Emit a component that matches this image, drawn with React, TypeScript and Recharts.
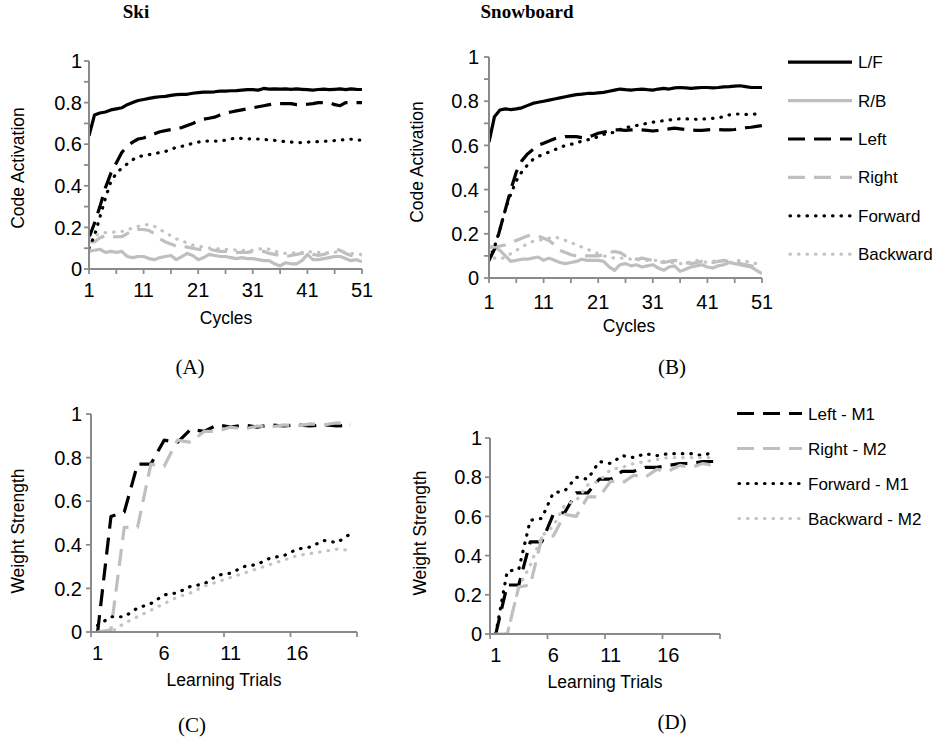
import React from 'react';
import { LineChart, Line, XAxis, YAxis, Legend } from 'recharts';

// ---------- categories ----------
const CYCLES = [1,2,3,4,5,6,7,8,9,10,11,12,13,14,15,16,17,18,19,20,21,22,23,24,25,26,27,28,29,30,31,32,33,34,35,36,37,38,39,40,41,42,43,44,45,46,47,48,49,50,51];
const TRIALS = [1,2,3,4,5,6,7,8,9,10,11,12,13,14,15,16,17,18,19,20];

// ---------- Ski (A) ----------
const SKI_LF = [0.64,0.74,0.75,0.755,0.765,0.77,0.775,0.79,0.80,0.81,0.815,0.82,0.825,0.828,0.83,0.835,0.838,0.84,0.84,0.845,0.848,0.85,0.85,0.852,0.855,0.855,0.857,0.858,0.86,0.862,0.862,0.86,0.868,0.865,0.866,0.865,0.866,0.864,0.866,0.864,0.862,0.86,0.863,0.865,0.862,0.864,0.866,0.862,0.866,0.864,0.863];
const SKI_RB = [0.085,0.09,0.095,0.08,0.085,0.08,0.085,0.06,0.055,0.06,0.06,0.05,0.045,0.055,0.06,0.065,0.045,0.06,0.075,0.065,0.045,0.055,0.07,0.065,0.06,0.06,0.055,0.05,0.055,0.05,0.05,0.045,0.04,0.04,0.025,0.015,0.03,0.025,0.025,0.04,0.07,0.045,0.045,0.05,0.055,0.06,0.06,0.05,0.04,0.045,0.035];
const SKI_LEFT = [0.15,0.22,0.30,0.39,0.46,0.51,0.56,0.59,0.61,0.625,0.63,0.64,0.65,0.66,0.665,0.67,0.675,0.68,0.69,0.70,0.71,0.72,0.725,0.73,0.74,0.75,0.755,0.76,0.765,0.77,0.775,0.78,0.785,0.79,0.795,0.795,0.795,0.795,0.79,0.79,0.792,0.795,0.80,0.80,0.80,0.79,0.785,0.80,0.80,0.80,0.80];
const SKI_RIGHT = [0.13,0.13,0.15,0.16,0.155,0.155,0.155,0.17,0.185,0.19,0.19,0.185,0.17,0.145,0.13,0.12,0.11,0.11,0.105,0.10,0.095,0.09,0.095,0.09,0.085,0.085,0.08,0.08,0.08,0.08,0.085,0.085,0.085,0.075,0.07,0.065,0.06,0.065,0.07,0.075,0.08,0.07,0.065,0.07,0.08,0.095,0.09,0.075,0.065,0.06,0.06];
const SKI_FWD = [0.10,0.16,0.25,0.34,0.42,0.46,0.485,0.505,0.525,0.54,0.545,0.55,0.555,0.56,0.565,0.575,0.585,0.59,0.595,0.605,0.61,0.615,0.615,0.615,0.615,0.62,0.625,0.63,0.628,0.626,0.626,0.625,0.623,0.62,0.618,0.616,0.612,0.61,0.608,0.608,0.61,0.612,0.612,0.614,0.615,0.617,0.62,0.622,0.624,0.62,0.62];
const SKI_BACK = [0.15,0.16,0.17,0.175,0.175,0.18,0.18,0.19,0.195,0.205,0.21,0.215,0.205,0.19,0.175,0.16,0.145,0.135,0.125,0.115,0.11,0.105,0.10,0.10,0.095,0.095,0.095,0.09,0.09,0.09,0.09,0.095,0.10,0.095,0.085,0.08,0.075,0.075,0.08,0.08,0.085,0.08,0.08,0.08,0.075,0.08,0.085,0.08,0.075,0.07,0.07];

// ---------- Snowboard (B) ----------
const SB_LF = [0.615,0.73,0.76,0.765,0.762,0.765,0.77,0.78,0.79,0.795,0.80,0.805,0.81,0.815,0.82,0.825,0.83,0.832,0.835,0.835,0.838,0.84,0.845,0.85,0.855,0.852,0.85,0.853,0.855,0.852,0.85,0.855,0.858,0.855,0.86,0.862,0.86,0.858,0.86,0.862,0.862,0.86,0.862,0.865,0.866,0.868,0.87,0.866,0.862,0.862,0.862];
const SB_RB = [0.14,0.14,0.125,0.10,0.075,0.08,0.085,0.085,0.09,0.095,0.08,0.09,0.08,0.07,0.065,0.07,0.075,0.085,0.08,0.08,0.08,0.075,0.05,0.035,0.06,0.065,0.055,0.06,0.05,0.055,0.06,0.045,0.035,0.05,0.055,0.03,0.04,0.05,0.055,0.06,0.05,0.045,0.055,0.06,0.07,0.065,0.06,0.055,0.05,0.035,0.02];
const SB_LEFT = [0.08,0.13,0.22,0.31,0.40,0.48,0.53,0.56,0.58,0.60,0.61,0.62,0.63,0.635,0.64,0.64,0.64,0.635,0.635,0.645,0.655,0.66,0.665,0.67,0.67,0.668,0.67,0.672,0.67,0.668,0.665,0.668,0.672,0.675,0.678,0.675,0.672,0.67,0.668,0.668,0.67,0.672,0.672,0.67,0.67,0.672,0.675,0.68,0.682,0.686,0.69];
const SB_RIGHT = [0.14,0.14,0.145,0.15,0.16,0.17,0.18,0.19,0.195,0.19,0.18,0.17,0.15,0.125,0.115,0.105,0.10,0.10,0.10,0.10,0.10,0.105,0.115,0.12,0.115,0.10,0.09,0.085,0.09,0.085,0.08,0.075,0.07,0.075,0.08,0.075,0.07,0.065,0.07,0.075,0.07,0.07,0.075,0.08,0.075,0.07,0.065,0.06,0.055,0.05,0.045];
const SB_FWD = [0.08,0.14,0.22,0.31,0.38,0.44,0.48,0.51,0.535,0.55,0.56,0.57,0.58,0.59,0.60,0.605,0.61,0.62,0.625,0.63,0.64,0.65,0.655,0.66,0.672,0.68,0.685,0.69,0.695,0.70,0.705,0.708,0.712,0.715,0.718,0.72,0.72,0.72,0.718,0.72,0.72,0.722,0.725,0.73,0.738,0.742,0.742,0.74,0.74,0.742,0.742];
const SB_BACK = [0.12,0.09,0.085,0.095,0.11,0.125,0.14,0.155,0.165,0.17,0.175,0.18,0.185,0.18,0.17,0.16,0.15,0.14,0.13,0.12,0.11,0.10,0.095,0.09,0.09,0.09,0.085,0.085,0.08,0.08,0.08,0.08,0.075,0.07,0.07,0.065,0.065,0.075,0.08,0.075,0.07,0.075,0.08,0.075,0.07,0.075,0.08,0.075,0.07,0.065,0.06];

// ---------- Weight strength (C) ----------
const C_LEFT = [0,0.53,0.55,0.77,0.77,0.88,0.87,0.93,0.92,0.95,0.94,0.95,0.94,0.95,0.945,0.95,0.945,0.95,0.945,0.95];
const C_RIGHT = [0,0.01,0.48,0.48,0.77,0.76,0.88,0.87,0.92,0.92,0.94,0.93,0.945,0.94,0.95,0.945,0.955,0.95,0.96,0.95];
const C_FWD = [0.03,0.07,0.07,0.11,0.13,0.17,0.18,0.21,0.22,0.26,0.27,0.30,0.31,0.34,0.35,0.38,0.39,0.42,0.41,0.45];
const C_BACK = [0,0,0.04,0.07,0.10,0.13,0.16,0.18,0.21,0.23,0.25,0.27,0.29,0.31,0.33,0.35,0.36,0.37,0.38,0.375];

// ---------- Weight strength (D) ----------
const D_LEFT = [0,0.25,0.25,0.47,0.47,0.61,0.62,0.72,0.72,0.79,0.79,0.83,0.83,0.85,0.85,0.86,0.87,0.87,0.88,0.88];
const D_RIGHT = [0,0,0.24,0.25,0.49,0.50,0.61,0.60,0.70,0.70,0.78,0.77,0.81,0.80,0.84,0.83,0.86,0.85,0.87,0.86];
const D_FWD = [0,0.32,0.33,0.58,0.59,0.72,0.73,0.80,0.79,0.88,0.87,0.91,0.90,0.92,0.91,0.92,0.92,0.92,0.91,0.93];
const D_BACK = [0,0,0.24,0.35,0.50,0.55,0.66,0.68,0.76,0.78,0.84,0.85,0.87,0.88,0.89,0.90,0.90,0.90,0.90,0.90];

// ---------- ticks ----------
const Y_TICKS_CODE = [0,0.1,0.2,0.3,0.4,0.5,0.6,0.7,0.8,0.9,1];
const Y_LABELS_CODE = [0,0.2,0.4,0.6,0.8,1];
const X_TICKS_CYCLES = [1,6,11,16,21,26,31,36,41,46,51];
const X_LABELS_CYCLES = [1,11,21,31,41,51];
const Y_TICKS_W = [0,0.2,0.4,0.6,0.8,1];
const X_TICKS_TRIALS = [0.5,1,5.5,6,10.5,11,15.5,16,20.5];
const X_LABELS_TRIALS = [1,6,11,16];

// ---------- legend names ----------
const TOP_NAMES = ['L/F','R/B','Left','Right','Forward','Backward'];
const BOTTOM_NAMES = ['Left - M1','Right - M2','Forward - M1','Backward - M2'];

// ---------- styles ----------
const SANS = "'Liberation Sans', Arial, sans-serif";
const SERIF = "'Liberation Serif', 'Times New Roman', serif";
const AXIS = '#8a8a8a';
const BLACK = '#000000';
const GRAY = '#bfbfbf';
const GRAY_DOT = '#c3c3c3';
const DASH = '17 9';
const DOT = '0.5 8';
const LW = 3.2;

type Style = { color: string; dash?: string; round?: boolean };
const SOLID_B: Style = { color: BLACK };
const SOLID_G: Style = { color: GRAY };
const DASH_B: Style = { color: BLACK, dash: DASH };
const DASH_G: Style = { color: GRAY, dash: DASH };
const DOT_B: Style = { color: BLACK, dash: DOT, round: true };
const DOT_G: Style = { color: GRAY_DOT, dash: DOT, round: true };

const TOP_STYLES = [SOLID_B, SOLID_G, DASH_B, DASH_G, DOT_B, DOT_G];
const BOTTOM_STYLES = [DASH_B, DASH_G, DOT_B, DOT_G];
const TOP_KEYS = ['lf', 'rb', 'left', 'right', 'fwd', 'back'];
const BOTTOM_KEYS = ['left', 'right', 'fwd', 'back'];

const skiData = CYCLES.map((c, i) => ({ x: c, lf: SKI_LF[i], rb: SKI_RB[i], left: SKI_LEFT[i], right: SKI_RIGHT[i], fwd: SKI_FWD[i], back: SKI_BACK[i] }));
const sbData = CYCLES.map((c, i) => ({ x: c, lf: SB_LF[i], rb: SB_RB[i], left: SB_LEFT[i], right: SB_RIGHT[i], fwd: SB_FWD[i], back: SB_BACK[i] }));
const cData = TRIALS.map((t, i) => ({ x: t, left: C_LEFT[i], right: C_RIGHT[i], fwd: C_FWD[i], back: C_BACK[i] }));
const dData = TRIALS.map((t, i) => ({ x: t, left: D_LEFT[i], right: D_RIGHT[i], fwd: D_FWD[i], back: D_BACK[i] }));

const has = (arr: number[], v: number) => arr.some((a) => Math.abs(a - v) < 1e-6);
const fmt = (v: number) => String(Math.round(v * 10) / 10);

const makeYTick = (labels: number[], gap: number) => (props: any) => {
  const { x, y, payload } = props;
  const v = payload.value;
  return (
    <g>
      <line x1={x - 5} x2={x} y1={y} y2={y} stroke={AXIS} strokeWidth={1.75} />
      {has(labels, v) && (
        <text x={x - gap} y={y} dy={7.2} textAnchor="end" fontSize={20} fontFamily={SANS} fill="#000">
          {fmt(v)}
        </text>
      )}
    </g>
  );
};

const makeXTick = (labels: number[], tickAt: (v: number) => boolean, offset: number) => (props: any) => {
  const { x, y, payload } = props;
  const v = payload.value;
  return (
    <g>
      {tickAt(v) && <line x1={x} x2={x} y1={y} y2={y + 5} stroke={AXIS} strokeWidth={1.75} />}
      {has(labels, v) && (
        <text x={x} y={y + offset} dy={7.2} textAnchor="middle" fontSize={20} fontFamily={SANS} fill="#000">
          {fmt(v)}
        </text>
      )}
    </g>
  );
};

const LegendBox = ({ names, styles, rowH, lineW }: { names: string[]; styles: Style[]; rowH: number; lineW: number }) => (
  <svg width={200} height={names.length * rowH} style={{ display: 'block', overflow: 'visible' }}>
    {names.map((n, i) => {
      const cy = rowH / 2 + i * rowH;
      const s = styles[i];
      return (
        <g key={n}>
          <line
            x1={s.round ? 2 : 0}
            x2={lineW}
            y1={cy}
            y2={cy}
            stroke={s.color}
            strokeWidth={LW}
            strokeDasharray={s.dash}
            strokeLinecap={s.round ? 'round' : 'butt'}
          />
          <text x={lineW + 6} y={cy} dy={6} fontSize={17} fontFamily={SANS} fill="#000">
            {n}
          </text>
        </g>
      );
    })}
  </svg>
);

type PanelProps = {
  left: number; top: number; width: number; height: number;
  margin: { top: number; right: number; bottom: number; left: number };
  yWidth: number; xHeight: number;
  data: any[]; keys: string[]; styles: Style[]; names: string[];
  xDomain: [number, number]; xTicks: number[]; xLabels: number[]; tickAt: (v: number) => boolean;
  yTicks: number[]; yLabels: number[]; yGap: number; xOffset: number;
  legend?: { left: number; top: number; rowH: number; lineW: number };
};

const Panel = (p: PanelProps) => (
  <div style={{ position: 'absolute', left: p.left, top: p.top }}>
    <LineChart width={p.width} height={p.height} data={p.data} margin={p.margin}>
      <XAxis
        dataKey="x"
        type="number"
        domain={p.xDomain}
        ticks={p.xTicks}
        interval={0}
        height={p.xHeight}
        tickSize={0}
        tickMargin={0}
        tickLine={false}
        axisLine={{ stroke: AXIS, strokeWidth: 2 }}
        tick={makeXTick(p.xLabels, p.tickAt, p.xOffset)}
        allowDataOverflow
      />
      <YAxis
        type="number"
        domain={[0, 1]}
        ticks={p.yTicks}
        interval={0}
        width={p.yWidth}
        tickSize={0}
        tickMargin={0}
        tickLine={false}
        axisLine={{ stroke: AXIS, strokeWidth: 2 }}
        tick={makeYTick(p.yLabels, p.yGap)}
        allowDataOverflow
      />
      {p.keys.map((k, i) => (
        <Line
          key={k}
          dataKey={k}
          name={p.names[i]}
          type="linear"
          stroke={p.styles[i].color}
          strokeWidth={LW}
          strokeDasharray={p.styles[i].dash}
          strokeLinecap={p.styles[i].round ? 'round' : 'butt'}
          strokeLinejoin="round"
          dot={false}
          activeDot={false}
          isAnimationActive={false}
        />
      ))}
      {p.legend && (
        <Legend
          layout="vertical"
          align="center"
          verticalAlign="middle"
          wrapperStyle={{ position: 'absolute', left: p.legend.left, top: p.legend.top, width: 200, margin: 0, padding: 0 }}
          content={() => <LegendBox names={p.names} styles={p.styles} rowH={p.legend!.rowH} lineW={p.legend!.lineW} />}
        />
      )}
    </LineChart>
  </div>
);

const Txt = ({ x, y, size, family, weight, rotate, children }: any) => (
  <div
    style={{
      position: 'absolute', left: x, top: y,
      transform: `translate(-50%, -50%)${rotate ? ' rotate(-90deg)' : ''}`,
      fontSize: size, fontFamily: family, fontWeight: weight || 'normal',
      whiteSpace: 'nowrap', lineHeight: 1.2, color: '#000',
    }}
  >
    {children}
  </div>
);

const cycTick = (v: number) => true;
const trialTick = (v: number) => Math.abs(v - Math.round(v)) > 0.1;

export default function App() {
  return (
    <div style={{ position: 'absolute', left: 0, top: 0, width: 940, height: 742, background: '#fff', overflow: 'hidden' }}>
      {/* Titles */}
      <Txt x={136} y={12} size={19} family={SERIF} weight="bold">Ski</Txt>
      <Txt x={527} y={12} size={19} family={SERIF} weight="bold">Snowboard</Txt>

      {/* A */}
      <Panel
        left={0} top={40} width={380} height={299}
        margin={{ top: 21, right: 18, bottom: 0, left: 0 }}
        yWidth={89} xHeight={70}
        data={skiData} keys={TOP_KEYS} styles={TOP_STYLES} names={TOP_NAMES}
        xDomain={[1, 51]} xTicks={X_TICKS_CYCLES} xLabels={X_LABELS_CYCLES} tickAt={cycTick}
        yTicks={Y_TICKS_CODE} yLabels={Y_LABELS_CODE} yGap={7} xOffset={21}
      />
      {/* B */}
      <Panel
        left={400} top={40} width={540} height={308}
        margin={{ top: 17, right: 178, bottom: 0, left: 0 }}
        yWidth={89} xHeight={70}
        data={sbData} keys={TOP_KEYS} styles={TOP_STYLES} names={TOP_NAMES}
        xDomain={[1, 51]} xTicks={X_TICKS_CYCLES} xLabels={X_LABELS_CYCLES} tickAt={cycTick}
        yTicks={Y_TICKS_CODE} yLabels={Y_LABELS_CODE} yGap={10} xOffset={23.5}
        legend={{ left: 388, top: 3, rowH: 38.4, lineW: 64 }}
      />
      {/* C */}
      <Panel
        left={0} top={400} width={380} height={302}
        margin={{ top: 14, right: 23, bottom: 0, left: 0 }}
        yWidth={91} xHeight={70}
        data={cData} keys={BOTTOM_KEYS} styles={BOTTOM_STYLES} names={BOTTOM_NAMES}
        xDomain={[0.5, 20.5]} xTicks={X_TICKS_TRIALS} xLabels={X_LABELS_TRIALS} tickAt={trialTick}
        yTicks={Y_TICKS_W} yLabels={Y_TICKS_W} yGap={9} xOffset={21}
      />
      {/* D */}
      <Panel
        left={400} top={390} width={540} height={314}
        margin={{ top: 48, right: 220, bottom: 0, left: 0 }}
        yWidth={90} xHeight={70}
        data={dData} keys={BOTTOM_KEYS} styles={BOTTOM_STYLES} names={BOTTOM_NAMES}
        xDomain={[0.5, 20.5]} xTicks={X_TICKS_TRIALS} xLabels={X_LABELS_TRIALS} tickAt={trialTick}
        yTicks={Y_TICKS_W} yLabels={Y_TICKS_W} yGap={8} xOffset={21}
        legend={{ left: 337, top: 5.5, rowH: 35, lineW: 65 }}
      />

      {/* Axis titles */}
      <Txt x={17.5} y={168} size={17.5} family={SANS} rotate>Code Activation</Txt>
      <Txt x={416.5} y={162} size={17.5} family={SANS} rotate>Code Activation</Txt>
      <Txt x={226} y={318} size={17.5} family={SANS}>Cycles</Txt>
      <Txt x={629} y={326} size={17.5} family={SANS}>Cycles</Txt>
      <Txt x={17.5} y={531} size={17.5} family={SANS} rotate>Weight Strength</Txt>
      <Txt x={420} y={533} size={17.5} family={SANS} rotate>Weight Strength</Txt>
      <Txt x={224} y={680} size={17.5} family={SANS}>Learning Trials</Txt>
      <Txt x={605} y={682} size={17.5} family={SANS}>Learning Trials</Txt>

      {/* Panel labels */}
      <Txt x={190} y={368} size={21} family={SERIF}>(A)</Txt>
      <Txt x={672} y={368} size={21} family={SERIF}>(B)</Txt>
      <Txt x={192} y={726} size={21} family={SERIF}>(C)</Txt>
      <Txt x={672} y={723} size={21} family={SERIF}>(D)</Txt>
    </div>
  );
}
